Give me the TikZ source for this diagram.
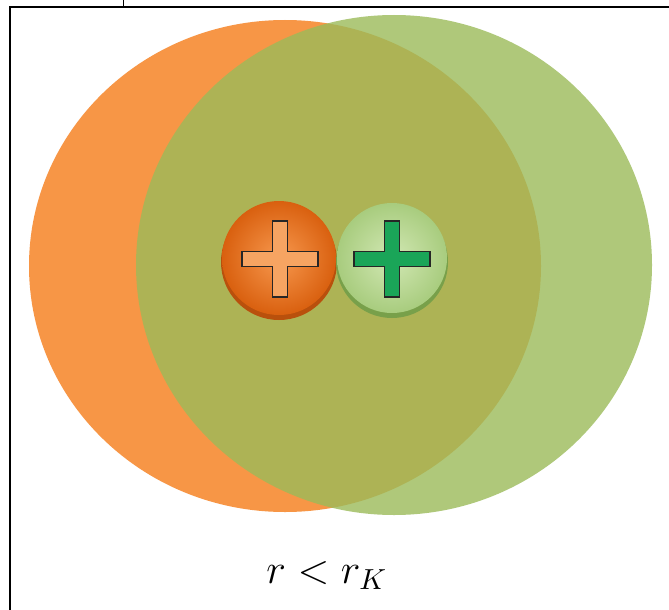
\documentclass[tikz,border=0pt]{standalone}
\definecolor{orangeA}{HTML}{F79646}
\definecolor{greenA}{HTML}{9BBB59}
\definecolor{obLight}{HTML}{F7984E}
\definecolor{obDark}{HTML}{D9600F}
\definecolor{obShadow}{HTML}{B9500C}
\definecolor{gbLight}{HTML}{D2E8B4}
\definecolor{gbDark}{HTML}{A8CC7E}
\definecolor{gbShadow}{HTML}{78A04A}
\definecolor{crossO}{HTML}{F6A462}
\definecolor{crossG}{HTML}{1AA558}
\tikzset{
  frameline/.style={draw=black, line width=1.8pt},
  crossstyle/.style={draw=black!85, line width=1.1pt, line join=miter},
}
\begin{document}
\begin{tikzpicture}[x=1pt,y=-1pt]
\useasboundingbox (0,0) rectangle (669,610);
\fill[white] (0,0) rectangle (669,610);
% frame
\draw[frameline] (10,611) -- (10,7) -- (670,7);
\draw[black, line width=0.8pt] (123,0) -- (123,7);
% big clouds
\fill[orangeA] (285,266) ellipse [x radius=256, y radius=246];
\fill[greenA, fill opacity=0.8] (394,265) ellipse [x radius=258, y radius=250];
% orange ball
\fill[obShadow] (279,262) circle [radius=58];
\shade[inner color=obLight, outer color=obDark] (279,258) circle [radius=57];
% green ball
\fill[gbShadow] (392,262) circle [radius=56];
\shade[inner color=gbLight, outer color=gbDark] (392,258) circle [radius=55];
% crosses
\def\cw{7.5}
\def\cl{38}
\draw[crossstyle, fill=crossO, shift={(280pt,-259pt)}]
  (-\cw,-\cl) -- (\cw,-\cl) -- (\cw,-\cw) -- (\cl,-\cw) -- (\cl,\cw) -- (\cw,\cw)
  -- (\cw,\cl) -- (-\cw,\cl) -- (-\cw,\cw) -- (-\cl,\cw) -- (-\cl,-\cw) -- (-\cw,-\cw) -- cycle;
\draw[crossstyle, fill=crossG, shift={(392pt,-259pt)}]
  (-\cw,-\cl) -- (\cw,-\cl) -- (\cw,-\cw) -- (\cl,-\cw) -- (\cl,\cw) -- (\cw,\cw)
  -- (\cw,\cl) -- (-\cw,\cl) -- (-\cw,\cw) -- (-\cl,\cw) -- (-\cl,-\cw) -- (-\cw,-\cw) -- cycle;
% label
\node[anchor=base, inner sep=0pt, scale=2.9, font=\Large] (lbl) at (327,583) {$r<r_K$};
\end{tikzpicture}
\end{document}
